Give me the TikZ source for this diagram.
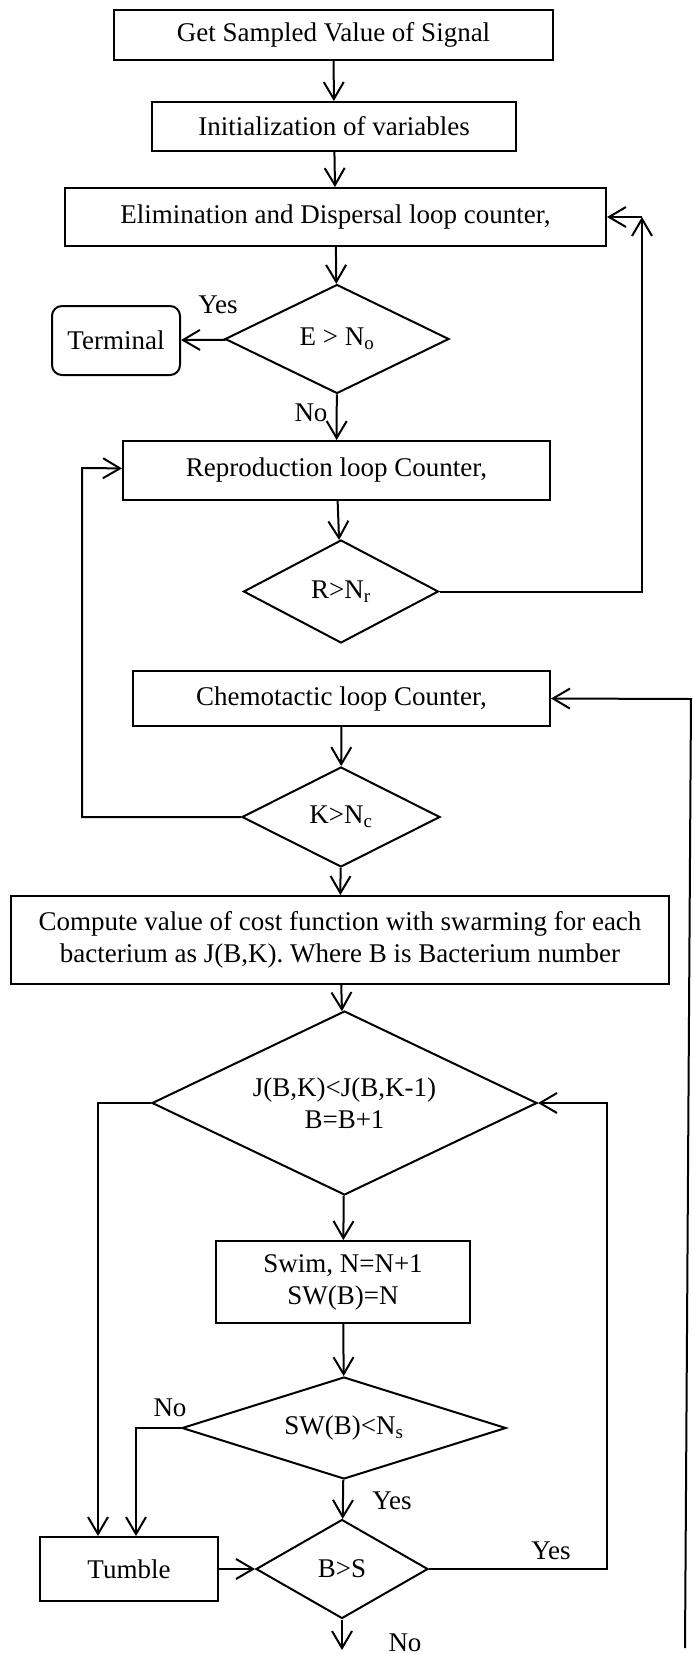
\documentclass[tikz,border=0pt]{standalone}
\usepackage{fontspec}
\setmainfont{Liberation Serif}
\usetikzlibrary{arrows.meta}
\usetikzlibrary{shapes}
\usetikzlibrary{positioning}

\begin{document}
\begin{tikzpicture}[x=1pt,y=-1pt,line width=2pt,
		every node/.style={font=\fontsize{27}{32}\selectfont},
		box/.style={draw,rectangle,align=center,inner sep=0pt},
		decision/.style={draw,diamond,aspect=2,inner sep=0pt,align=center},
		term/.style={draw,rectangle,rounded corners=10pt,inner sep=0pt},
		arr/.style={-{Straight Barb[length=17pt,width=20pt]}}]
		\useasboundingbox (0,0) rectangle (694,1654);
		
		\node[box,minimum width=439pt,minimum height=50pt] (sample) at (333.5,35) {Get Sampled Value of Signal};
		\node[box,minimum width=364pt,minimum height=49pt] (init) at (334,126.5) {Initialization of variables};
		\node[box,minimum width=541pt,minimum height=58pt] (elim) at (335.5,217) {Elimination and Dispersal loop counter,};
		\node[decision,minimum width=224pt,minimum height=109pt] (dE) at (337,339) {E > N\textsubscript{o}};
		\node[term,minimum width=128pt,minimum height=69pt] (term) at (116,340.5) {Terminal};
		
		\node[box,minimum width=427pt,minimum height=59pt] (repro) at (336.5,470.5) {Reproduction loop Counter,};
		\node[decision,minimum width=195pt,minimum height=103pt] (dR) at (341,591.5) {R>N\textsubscript{r}};
		\node[box,minimum width=417pt,minimum height=55pt] (chemo) at (341.5,698.5) {Chemotactic loop Counter,};
		\node[decision,minimum width=198pt,minimum height=100pt] (dK) at (341,817) {K>N\textsubscript{c}};
		
		\node[box,minimum width=658pt,minimum height=88pt] (cost) at (340,940) {Compute value of cost function with swarming for each\\bacterium as J(B,K). Where B is Bacterium number};
		\node[decision,minimum width=385pt,minimum height=184pt] (dJ) at (344.5,1103) {J(B,K)<J(B,K-1)\\B=B+1};
		\node[box,minimum width=254pt,minimum height=82pt] (swim) at (343,1282) {Swim, N=N+1\\SW(B)=N};
		\node[decision,minimum width=324pt,minimum height=102pt] (dSW) at (344,1428) {SW(B)<N\textsubscript{s}};
		\node[box,minimum width=178pt,minimum height=64pt] (tumble) at (129,1569) {Tumble};
		\node[decision,minimum width=172pt,minimum height=99pt] (dB) at (342,1569) {B>S};
		
		\node (yesE) at (218,305) {Yes};
		\node (noE) at (311,413) {No};
		\node (noSW) at (170,1408) {No};
		\node (yesSW) at (392,1501) {Yes};
		\node (yesB) at (551,1551) {Yes};
		\node[anchor=base] (noB) at (405,1651) {No};
		
		\coordinate (rc) at (642,217);
		\coordinate (lc) at (82,468);
		\coordinate (jl) at (98,1103);
		\coordinate (swl) at (136,1428);
		\coordinate (jr) at (607,1103);
		\coordinate (ftop) at (691,699);
		\coordinate (fbot) at (685,1648);
		\coordinate (bend) at (342,1650);
		
		\draw[arr] (sample) -- (init);
		\draw[arr] (init) -- (elim);
		\draw[arr] (elim) -- (dE);
		\draw[arr] (dE) -- (term);
		\draw[arr] (dE) -- (repro);
		\draw[arr] (repro) -- (dR);
		\draw[arr] (dR.east) -| (rc);
		\draw[arr] (rc) -- (elim);
		\draw[arr] (chemo) -- (dK);
		\draw[arr] (dK.west) -| (lc) -- (repro);
		\draw[arr] (dK) -- (cost);
		\draw[arr] (cost) -- (dJ);
		\draw[arr] (dJ.west) -| (tumble.north -| jl);
		\draw[arr] (dJ) -- (swim);
		\draw[arr] (swim) -- (dSW);
		\draw[arr] (dSW.west) -| (tumble.north -| swl);
		\draw[arr] (dSW) -- (dB);
		\draw[arr] (tumble) -- (dB);
		\draw[arr] (dB.east) -| (jr) -- (dJ);
		\draw[arr] (dB) -- (bend);
		\draw[arr] (fbot) -- (ftop) -- (chemo.east);
\end{tikzpicture}
\end{document}
